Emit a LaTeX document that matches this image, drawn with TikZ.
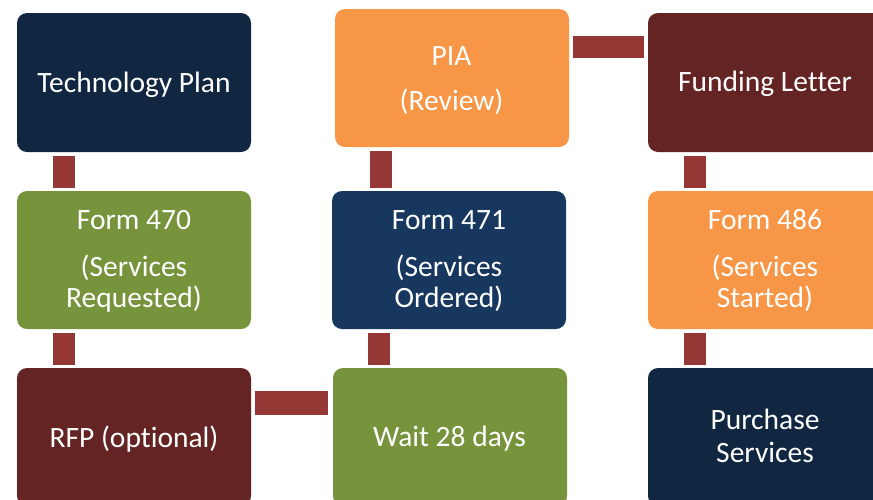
\documentclass[tikz,border=0pt]{standalone}
\usepackage{fontspec}
\setmainfont[Ligatures={NoCommon}]{Carlito}
\usetikzlibrary{calc}
\definecolor{navy}{HTML}{112640}
\definecolor{dblue}{HTML}{17375E}
\definecolor{orng}{HTML}{F79646}
\definecolor{dred}{HTML}{632423}
\definecolor{grn}{HTML}{77933C}
\definecolor{connred}{HTML}{953735}
\begin{document}
\begin{tikzpicture}[x=1pt,y=-1pt,
  box/.style={draw=none, rounded corners=10pt, minimum width=234pt, minimum height=138pt, anchor=north west, inner sep=0pt, outer sep=0pt},
  txt/.style={text=white, anchor=base, inner sep=0pt, font=\fontsize{29.5}{35}\selectfont},
  conn/.style={draw=connred, line width=22pt, shorten <=3.5pt, shorten >=3.5pt}]
\useasboundingbox (0,0) rectangle (873,499);
\clip (0,0) rectangle (873,499);
% boxes
\node[box, fill=navy, minimum height=139pt] (tp) at (17,13) {};
\node[box, fill=orng] (pia) at (335,9) {};
\node[box, fill=dred, minimum height=139pt] (fl) at (648,13) {};
\node[box, fill=grn] (f470) at (17,191) {};
\node[box, fill=dblue] (f471) at (332,191) {};
\node[box, fill=orng] (f486) at (648,191) {};
\node[box, fill=dred] (rfp) at (17,368) {};
\node[box, fill=grn] (wait) at (333,368) {};
\node[box, fill=navy] (ps) at (648,368) {};
% texts
\node[txt] (tpt) at (134,92) {Technology Plan};
\node[txt] (piat1) at (451.5,65) {PIA};
\node[txt] (piat2) at (451.5,110) {(Review)};
\node[txt] (flt) at (765,91) {Funding Letter};
\node[txt] (f470t1) at (134,229) {Form 470};
\node[txt] (f470t2) at (134,276) {(Services};
\node[txt] (f470t3) at (134,307) {Requested)};
\node[txt] (f471t1) at (449,229) {Form 471};
\node[txt] (f471t2) at (449,276) {(Services};
\node[txt] (f471t3) at (449,307) {Ordered)};
\node[txt] (f486t1) at (765,229) {Form 486};
\node[txt] (f486t2) at (765,276) {(Services};
\node[txt] (f486t3) at (765,307) {Started)};
\node[txt] (rfpt) at (134,447) {RFP (optional)};
\node[txt] (waitt) at (449.5,446) {Wait 28 days};
\node[txt] (pst1) at (765,429) {Purchase};
\node[txt] (pst2) at (765,462) {Services};
% connectors
\coordinate (c1) at ($(f470.north west)+(47,0)$);
\draw[conn] (c1 |- tp.south) -- (c1);
\coordinate (c2) at ($(rfp.north west)+(47,0)$);
\draw[conn] (c2 |- f470.south) -- (c2);
\coordinate (c3) at ($(f471.north west)+(48.5,0)$);
\draw[conn] (c3 |- pia.south) -- (c3);
\coordinate (c4) at ($(wait.north west)+(46,0)$);
\draw[conn] (c4 |- f471.south) -- (c4);
\coordinate (c5) at ($(f486.north west)+(47,0)$);
\draw[conn] (c5 |- fl.south) -- (c5);
\coordinate (c6) at ($(ps.north west)+(46.5,0)$);
\draw[conn] (c6 |- f486.south) -- (c6);
\coordinate (h1) at ($(pia.north east)+(0,37.5)$);
\draw[conn, shorten <=4pt, shorten >=4pt] (h1) -- (h1 -| fl.west);
\coordinate (h2) at ($(rfp.north east)+(0,34.5)$);
\draw[conn, line width=24pt, shorten <=4pt, shorten >=5pt] (h2) -- (h2 -| wait.west);
\end{tikzpicture}
\end{document}
